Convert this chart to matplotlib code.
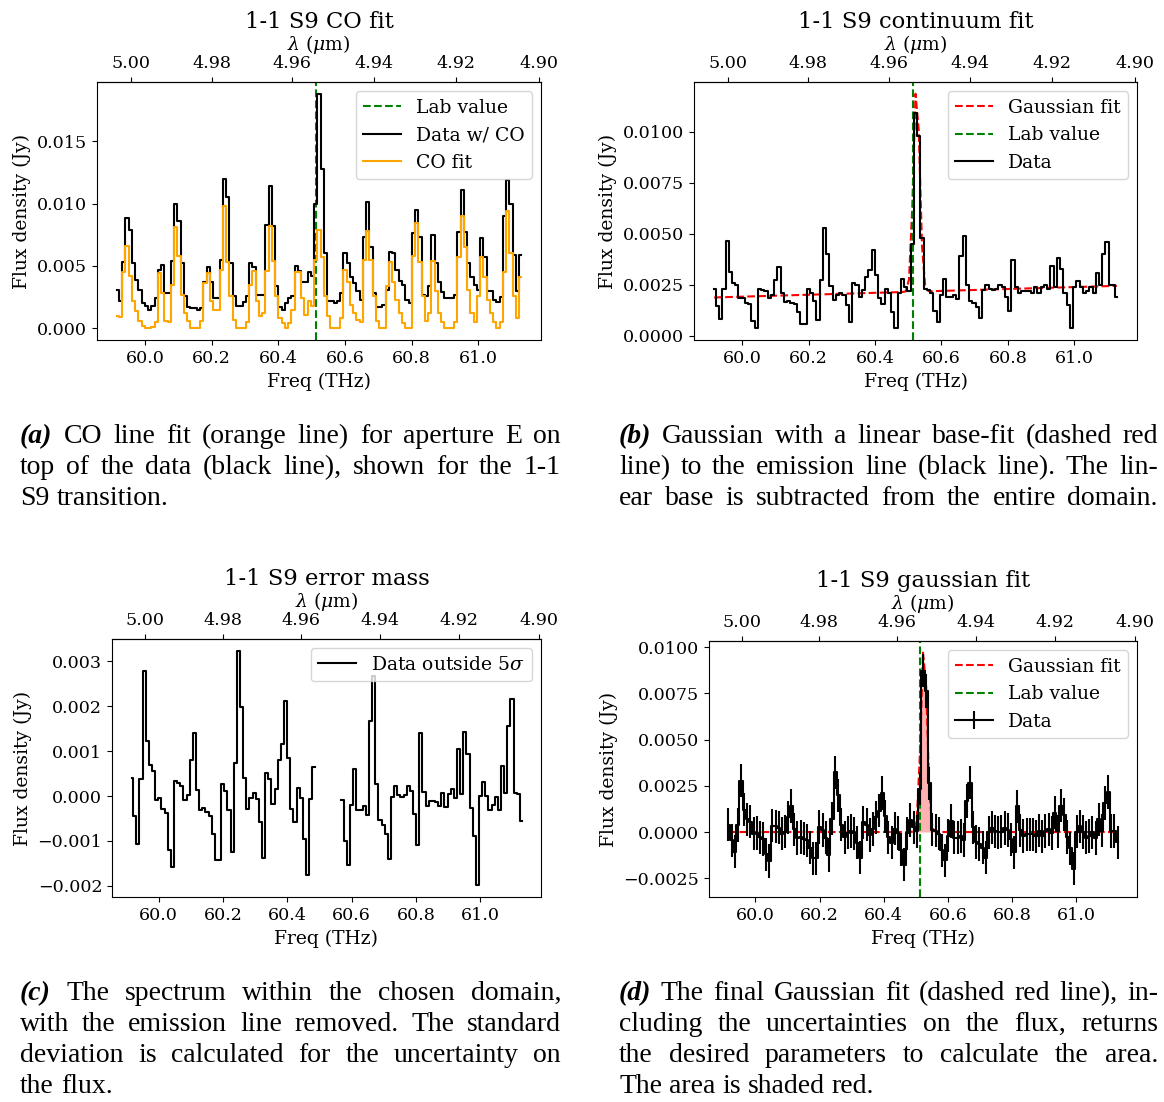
import numpy as np
import matplotlib
matplotlib.use('Agg')
import matplotlib.pyplot as plt

plt.rcParams['font.family'] = 'serif'
plt.rcParams['font.serif'] = ['DejaVu Serif']
plt.rcParams['mathtext.fontset'] = 'dejavuserif'
plt.rcParams['font.size'] = 13.5
plt.rcParams['xtick.labelsize'] = 12.6
plt.rcParams['ytick.labelsize'] = 12.6
plt.rcParams['axes.titlesize'] = 16.3
plt.rcParams['axes.titlepad'] = 3.5

# spectral grid (THz), 125 channels
freq_first = 59.916
freq_last = 61.128
n_chan = 125
lab_freq = 60.514

# (a) data with CO and the CO fit (Jy)
data_co = [0.0031, 0.0022, 0.0053, 0.0088, 0.0079, 0.0052, 0.0039, 0.0031, 0.0020, 0.0018,
           0.0015, 0.0018, 0.0024, 0.0047, 0.0051, 0.0028, 0.0028, 0.0054, 0.0100, 0.0086,
           0.0052, 0.0026, 0.0017, 0.0016, 0.0016, 0.0015, 0.0016, 0.0037, 0.0049, 0.0037,
           0.0024, 0.0024, 0.0055, 0.0120, 0.0105, 0.0052, 0.0026, 0.0018, 0.0018, 0.0021,
           0.0026, 0.0052, 0.0049, 0.0027, 0.0027, 0.0027, 0.0083, 0.0114, 0.0082, 0.0034,
           0.0017, 0.0015, 0.0020, 0.0024, 0.0026, 0.0050, 0.0046, 0.0037, 0.0037, 0.0045,
           0.0042, 0.0100, 0.0188, 0.0128, 0.0060, 0.0022, 0.0022, 0.0020, 0.0022, 0.0028,
           0.0060, 0.0052, 0.0041, 0.0036, 0.0030, 0.0023, 0.0073, 0.0101, 0.0065, 0.0028,
           0.0017, 0.0017, 0.0019, 0.0031, 0.0061, 0.0060, 0.0047, 0.0038, 0.0035, 0.0023,
           0.0020, 0.0076, 0.0095, 0.0073, 0.0027, 0.0026, 0.0034, 0.0075, 0.0052, 0.0037,
           0.0029, 0.0024, 0.0024, 0.0024, 0.0027, 0.0077, 0.0111, 0.0077, 0.0052, 0.0041,
           0.0035, 0.0031, 0.0072, 0.0057, 0.0030, 0.0030, 0.0023, 0.0021, 0.0025, 0.0090,
           0.0119, 0.0100, 0.0059, 0.0030, 0.0059]
co_fit = [0.0010, 0.0009, 0.0045, 0.0066, 0.0042, 0.0022, 0.0014, 0.0006, 0.0002, 0.0000,
          0.0000, 0.0001, 0.0005, 0.0044, 0.0028, 0.0006, 0.0005, 0.0035, 0.0081, 0.0058,
          0.0027, 0.0012, 0.0006, 0.0000, 0.0000, 0.0000, 0.0006, 0.0036, 0.0044, 0.0022,
          0.0015, 0.0015, 0.0047, 0.0098, 0.0053, 0.0026, 0.0007, 0.0000, 0.0000, 0.0000,
          0.0005, 0.0035, 0.0046, 0.0022, 0.0010, 0.0012, 0.0046, 0.0082, 0.0054, 0.0026,
          0.0008, 0.0004, 0.0000, 0.0004, 0.0015, 0.0045, 0.0045, 0.0024, 0.0011, 0.0022,
          0.0018, 0.0055, 0.0079, 0.0057, 0.0026, 0.0010, 0.0000, 0.0000, 0.0000, 0.0008,
          0.0047, 0.0037, 0.0019, 0.0012, 0.0007, 0.0005, 0.0055, 0.0078, 0.0055, 0.0026,
          0.0006, 0.0000, 0.0000, 0.0034, 0.0053, 0.0037, 0.0023, 0.0012, 0.0004, 0.0000,
          0.0000, 0.0058, 0.0084, 0.0053, 0.0026, 0.0006, 0.0012, 0.0054, 0.0030, 0.0012,
          0.0005, 0.0000, 0.0000, 0.0000, 0.0005, 0.0057, 0.0090, 0.0065, 0.0031, 0.0012,
          0.0005, 0.0026, 0.0057, 0.0041, 0.0023, 0.0012, 0.0005, 0.0000, 0.0005, 0.0045,
          0.0094, 0.0060, 0.0026, 0.0008, 0.0041]

# (b) spectrum after CO removal (Jy)
data_cont = [0.00228, 0.00144, 0.00082, 0.00228, 0.00467, 0.00312, 0.00260, 0.00247, 0.00183, 0.00187,
             0.00163, 0.00155, 0.00073, 0.00037, 0.00228, 0.00225, 0.00218, 0.00187, 0.00199, 0.00276,
             0.00338, 0.00212, 0.00166, 0.00171, 0.00163, 0.00155, 0.00115, 0.00058, 0.00058, 0.00228,
             0.00212, 0.00171, 0.00078, 0.00276, 0.00527, 0.00402, 0.00244, 0.00176, 0.00202, 0.00212,
             0.00200, 0.00150, 0.00069, 0.00260, 0.00247, 0.00192, 0.00225, 0.00289, 0.00325, 0.00422,
             0.00296, 0.00183, 0.00155, 0.00231, 0.00208, 0.00118, 0.00037, 0.00208, 0.00280, 0.00240,
             0.00220, 0.00450, 0.01090, 0.00980, 0.00480, 0.00230, 0.00225, 0.00210, 0.00120, 0.00066,
             0.00200, 0.00280, 0.00190, 0.00190, 0.00200, 0.00180, 0.00390, 0.00490, 0.00250, 0.00170,
             0.00160, 0.00140, 0.00086, 0.00225, 0.00250, 0.00230, 0.00225, 0.00230, 0.00250, 0.00240,
             0.00190, 0.00120, 0.00370, 0.00240, 0.00210, 0.00220, 0.00220, 0.00220, 0.00210, 0.00240,
             0.00210, 0.00240, 0.00250, 0.00230, 0.00340, 0.00240, 0.00380, 0.00330, 0.00210, 0.00150,
             0.00040, 0.00240, 0.00270, 0.00240, 0.00210, 0.00220, 0.00240, 0.00210, 0.00310, 0.00250,
             0.00400, 0.00460, 0.00250, 0.00250, 0.00190]

# linear base (Jy) at both ends, gaussian parameters, flux uncertainty
base_first = 0.00188
base_last = 0.00245
g_amp = 0.0102
g_mu = 60.525
g_sig = 0.0095
flux_err = 0.0009
# channels left out in (c)
cut_lo, cut_hi = 60.487, 60.565

freq = np.linspace(freq_first, freq_last, n_chan)
data_co = np.array(data_co)
co_fit = np.array(co_fit)
data_cont = np.array(data_cont)
base = np.interp(freq, [freq_first, freq_last], [base_first, base_last])
gauss = g_amp * np.exp(-(freq - g_mu)**2 / (2 * g_sig**2))
# base subtracted from the whole domain
resid = data_cont - base
resid_cut = np.where((freq > cut_lo) & (freq < cut_hi), np.nan, resid)


def thz_um(x):
    x = np.asarray(x, dtype=float)
    with np.errstate(divide='ignore', invalid='ignore'):
        return 299.792458 / x


W, H = 1164, 1102
fig = plt.figure(figsize=(W / 100, H / 100), dpi=100)


def px_axes(x0, y0, x1, y1):
    return fig.add_axes([x0 / W, 1 - y1 / H, (x1 - x0) / W, (y1 - y0) / H])


def setup(ax, title, yticks=None):
    ax.set_xticks([60.0, 60.2, 60.4, 60.6, 60.8, 61.0])
    if yticks is not None:
        ax.set_yticks(yticks)
    ax.set_xlabel('Freq (THz)')
    ax.set_ylabel('Flux density (Jy)')
    top = ax.secondary_xaxis('top', functions=(thz_um, thz_um))
    top.set_xticks([5.00, 4.98, 4.96, 4.94, 4.92, 4.90])
    top.set_xlabel(r'$\lambda$ ($\mu$m)')
    ax.set_title(title)
    ax.legend(loc='upper right')


# (a)
ax1 = px_axes(97, 82, 541, 340)
ax1.axvline(lab_freq, color='g', ls='--', label='Lab value')
ax1.step(freq, data_co, where='mid', color='k', label='Data w/ CO')
ax1.step(freq, co_fit, where='mid', color='orange', label='CO fit')
setup(ax1, '1-1 S9 CO fit')

# (b)
ax2 = px_axes(694, 82, 1137, 340)
ax2.plot(freq, base + gauss, 'r--', label='Gaussian fit')
ax2.axvline(lab_freq, color='g', ls='--', label='Lab value')
ax2.step(freq, data_cont, where='mid', color='k', label='Data')
setup(ax2, '1-1 S9 continuum fit', [0.0, 0.0025, 0.005, 0.0075, 0.01])

# (c)
ax3 = px_axes(112, 639, 541, 897)
ax3.step(freq, resid_cut, where='mid', color='k', label=r'Data outside 5$\sigma$')
setup(ax3, '1-1 S9 error mass')

# (d)
ax4 = px_axes(709, 641, 1137, 897)
ax4.plot(freq, gauss, 'r--', label='Gaussian fit')
ax4.fill_between(freq, 0, gauss, color='r', alpha=0.3, lw=0)
ax4.axvline(lab_freq, color='g', ls='--', label='Lab value')
ax4.errorbar(freq, resid, yerr=flux_err, color='k', drawstyle='steps-mid', label='Data')
setup(ax4, '1-1 S9 gaussian fit', [-0.0025, 0.0, 0.0025, 0.005, 0.0075, 0.01])

# captions, justified like the page text
cap_font = 'Liberation Serif'
cap_size = 20
renderer = fig.canvas.get_renderer()


def caption_line(x0, x1, y, text, tag=None, justify=True):
    items = []
    if tag:
        items.append(fig.text(0, 1 - y / H, tag, family=cap_font, size=cap_size,
                              weight='bold', style='italic', va='baseline'))
    for w in text.split():
        items.append(fig.text(0, 1 - y / H, w, family=cap_font, size=cap_size, va='baseline'))
    widths = [t.get_window_extent(renderer).width for t in items]
    space = 0.25 * cap_size * 100 / 72
    if justify and len(items) > 1:
        gap = (x1 - x0 - sum(widths)) / (len(items) - 1)
    else:
        gap = space
    pos = x0
    for t, w in zip(items, widths):
        t.set_x(pos / W)
        pos += w + gap


captions = [
    (20, 561, [443, 474, 505],
     [('(a)', 'CO line fit (orange line) for aperture E on', True),
      (None, 'top of the data (black line), shown for the 1-1', True),
      (None, 'S9 transition.', False)]),
    (619, 1158, [443, 474, 505],
     [('(b)', 'Gaussian with a linear base-fit (dashed red', True),
      (None, 'line) to the emission line (black line). The lin-', True),
      (None, 'ear base is subtracted from the entire domain.', True)]),
    (20, 561, [1000, 1031, 1062, 1093],
     [('(c)', 'The spectrum within the chosen domain,', True),
      (None, 'with the emission line removed. The standard', True),
      (None, 'deviation is calculated for the uncertainty on', True),
      (None, 'the flux.', False)]),
    (619, 1158, [1000, 1031, 1062, 1093],
     [('(d)', 'The final Gaussian fit (dashed red line), in-', True),
      (None, 'cluding the uncertainties on the flux, returns', True),
      (None, 'the desired parameters to calculate the area.', True),
      (None, 'The area is shaded red.', False)]),
]
for x0, x1, ys, lines in captions:
    for y, (tag, text, just) in zip(ys, lines):
        caption_line(x0, x1, y, text, tag, just)

fig.savefig('out.png', dpi=100)
